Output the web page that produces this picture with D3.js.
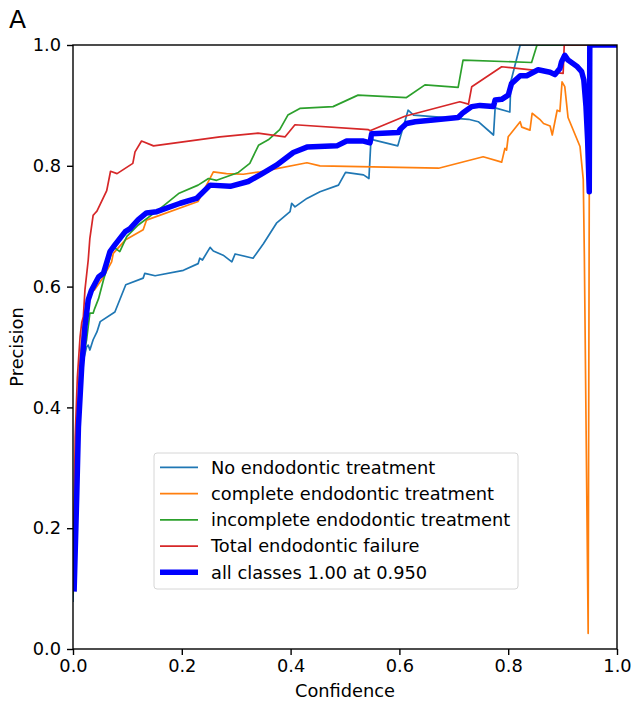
<!DOCTYPE html>
<html>
<head>
<meta charset="utf-8">
<script src="https://cdn.jsdelivr.net/npm/d3@7"></script>
<style>
  body { margin: 0; background: #fff; }
  text { font-family: "DejaVu Sans", sans-serif; }
</style>
</head>
<body>
<svg width="633" height="703"></svg>
<script>
// [confidence, precision] pairs
const noTreatment = [
  [0.000,0.078],[0.004,0.25],[0.008,0.38],[0.012,0.45],[0.019,0.478],[0.025,0.500],[0.028,0.503],
  [0.031,0.495],[0.037,0.512],[0.044,0.525],[0.050,0.542],[0.077,0.558],[0.097,0.603],[0.129,0.614],
  [0.132,0.622],[0.151,0.618],[0.203,0.627],[0.230,0.638],[0.233,0.647],[0.238,0.644],[0.252,0.665],
  [0.258,0.659],[0.276,0.652],[0.292,0.641],[0.298,0.654],[0.331,0.647],[0.350,0.671],[0.374,0.705],
  [0.399,0.724],[0.402,0.738],[0.408,0.732],[0.430,0.746],[0.454,0.757],[0.488,0.768],[0.501,0.789],
  [0.534,0.785],[0.544,0.779],[0.548,0.848],[0.552,0.843],[0.597,0.833],[0.616,0.892],[0.626,0.884],
  [0.727,0.877],[0.745,0.873],[0.773,0.851],[0.776,0.896],[0.803,0.889],[0.805,0.940],[0.822,1.0],
  [1.0,1.0]
];
const completeTreatment = [
  [0.000,0.10],[0.005,0.30],[0.012,0.47],[0.020,0.55],[0.028,0.586],[0.040,0.595],[0.056,0.616],
  [0.071,0.641],[0.074,0.655],[0.096,0.677],[0.129,0.694],[0.135,0.710],[0.230,0.741],[0.258,0.790],
  [0.282,0.787],[0.313,0.786],[0.344,0.790],[0.430,0.805],[0.454,0.800],[0.672,0.796],[0.754,0.815],
  [0.788,0.806],[0.794,0.829],[0.797,0.826],[0.800,0.848],[0.822,0.873],[0.825,0.864],[0.840,0.859],
  [0.844,0.887],[0.858,0.877],[0.865,0.870],[0.877,0.866],[0.881,0.851],[0.890,0.892],[0.895,0.890],
  [0.899,0.939],[0.904,0.931],[0.910,0.880],[0.932,0.832],[0.938,0.777],[0.940,0.65],[0.947,0.026],
  [0.949,0.75],[0.950,1.0],[1.0,1.0]
];
const incompleteTreatment = [
  [0.000,0.09],[0.006,0.30],[0.012,0.42],[0.018,0.48],[0.025,0.512],[0.031,0.556],[0.037,0.556],
  [0.040,0.564],[0.047,0.580],[0.056,0.611],[0.074,0.666],[0.086,0.658],[0.099,0.683],[0.120,0.702],
  [0.160,0.729],[0.194,0.754],[0.230,0.768],[0.249,0.779],[0.264,0.776],[0.304,0.789],[0.325,0.804],
  [0.341,0.834],[0.359,0.843],[0.380,0.860],[0.395,0.884],[0.417,0.895],[0.478,0.898],[0.524,0.917],
  [0.613,0.913],[0.647,0.934],[0.708,0.930],[0.717,0.975],[0.843,0.971],[0.853,1.0],[1.0,1.0]
];
const totalFailure = [
  [0.000,0.10],[0.004,0.35],[0.008,0.45],[0.013,0.517],[0.016,0.540],[0.019,0.550],[0.022,0.595],
  [0.028,0.644],[0.031,0.680],[0.037,0.718],[0.040,0.721],[0.044,0.725],[0.062,0.759],[0.069,0.791],
  [0.081,0.787],[0.110,0.804],[0.114,0.823],[0.126,0.841],[0.148,0.833],[0.270,0.848],[0.340,0.854],
  [0.390,0.848],[0.408,0.868],[0.543,0.860],[0.546,0.858],[0.610,0.882],[0.711,0.906],[0.727,0.902],
  [0.733,0.931],[0.788,0.964],[0.901,0.953],[0.903,1.0],[1.0,1.0]
];
const allClasses = [
  [0.002,0.095],[0.007,0.258],[0.010,0.368],[0.016,0.467],[0.022,0.534],[0.028,0.578],[0.034,0.594],
  [0.047,0.616],[0.056,0.622],[0.068,0.658],[0.077,0.669],[0.096,0.691],[0.105,0.696],[0.120,0.711],
  [0.135,0.722],[0.154,0.724],[0.197,0.738],[0.227,0.746],[0.252,0.768],[0.289,0.766],[0.322,0.774],
  [0.344,0.785],[0.374,0.801],[0.405,0.822],[0.430,0.831],[0.485,0.833],[0.503,0.841],[0.534,0.841],
  [0.546,0.838],[0.549,0.853],[0.598,0.855],[0.601,0.860],[0.613,0.870],[0.629,0.873],[0.662,0.876],
  [0.708,0.880],[0.717,0.888],[0.733,0.898],[0.748,0.900],[0.773,0.898],[0.776,0.909],[0.788,0.910],
  [0.800,0.917],[0.806,0.936],[0.822,0.949],[0.834,0.949],[0.855,0.959],[0.877,0.955],[0.886,0.951],
  [0.895,0.961],[0.898,0.972],[0.904,0.983],[0.910,0.975],[0.926,0.965],[0.935,0.956],[0.939,0.942],
  [0.943,0.898],[0.946,0.843],[0.949,0.757],[0.950,1.0],[1.0,1.0]
];

const seriesNames = [
  "No endodontic treatment",
  "complete endodontic treatment",
  "incomplete endodontic treatment",
  "Total endodontic failure",
  "all classes 1.00 at 0.950"
];
const seriesData = [noTreatment, completeTreatment, incompleteTreatment, totalFailure, allClasses];
const seriesColors = ["#1f77b4", "#ff7f0e", "#2ca02c", "#d62728", "#0000ff"];
const seriesWidths = [1.7, 1.7, 1.7, 1.7, 5.5];
const tickValues = [0, 0.2, 0.4, 0.6, 0.8, 1.0];

const svg = d3.select("svg"),
    margin = {top: 45, right: 16, bottom: 54, left: 73},
    width = +svg.attr("width") - margin.left - margin.right,
    height = +svg.attr("height") - margin.top - margin.bottom;

const x = d3.scaleLinear().domain([0, 1]).range([0, width]),
    y = d3.scaleLinear().domain([0, 1]).range([height, 0]);

const fontSize = 17.8;

const g = svg.append("g")
    .attr("transform", `translate(${margin.left},${margin.top})`);

g.append("clipPath").attr("id", "plot-clip")
  .append("rect").attr("width", width).attr("height", height);

const line = d3.line()
    .x(d => x(d[0]))
    .y(d => y(d[1]));

const plot = g.append("g").attr("clip-path", "url(#plot-clip)");

seriesData.forEach((data, i) => {
  plot.append("path")
      .datum(data)
      .attr("fill", "none")
      .attr("stroke", seriesColors[i])
      .attr("stroke-width", seriesWidths[i])
      .attr("stroke-linejoin", "round")
      .attr("stroke-linecap", "butt")
      .attr("d", line);
});

// axes
const xAxis = g.append("g")
    .attr("transform", `translate(0,${height})`)
    .call(d3.axisBottom(x).tickValues(tickValues).tickFormat(d3.format(".1f"))
      .tickSize(6).tickPadding(4.5).tickSizeOuter(0));
const yAxis = g.append("g")
    .call(d3.axisLeft(y).tickValues(tickValues).tickFormat(d3.format(".1f"))
      .tickSize(6).tickPadding(6).tickSizeOuter(0));

[xAxis, yAxis].forEach(a => {
  a.select(".domain").remove();
  a.selectAll("line").attr("stroke", "#000").attr("stroke-width", 1.4);
  a.selectAll("text").attr("fill", "#000").style("font-size", fontSize + "px")
      .style("font-family", "'DejaVu Sans', sans-serif");
});

// frame
g.append("rect")
    .attr("width", width).attr("height", height)
    .attr("fill", "none").attr("stroke", "#000").attr("stroke-width", 1.4);

// axis labels
svg.append("text")
    .attr("x", margin.left + width / 2).attr("y", 697)
    .attr("text-anchor", "middle")
    .style("font-size", fontSize + "px")
    .text("Confidence");

svg.append("text")
    .attr("transform", `translate(23,${margin.top + height / 2}) rotate(-90)`)
    .attr("text-anchor", "middle")
    .style("font-size", fontSize + "px")
    .text("Precision");

svg.append("text")
    .attr("x", 9).attr("y", 28)
    .style("font-size", "25px")
    .text("A");

// legend
const legend = svg.append("g").attr("transform", "translate(154,453)");
legend.append("rect")
    .attr("width", 364).attr("height", 136)
    .attr("rx", 3)
    .attr("fill", "#fff").attr("fill-opacity", 0.8)
    .attr("stroke", "#d6d6d6").attr("stroke-width", 1);

seriesNames.forEach((name, i) => {
  const yy = 14.3 + i * 26.25;
  legend.append("line")
      .attr("x1", 6).attr("x2", 44).attr("y1", yy).attr("y2", yy)
      .attr("stroke", seriesColors[i])
      .attr("stroke-width", seriesWidths[i]);
  legend.append("text")
      .attr("x", 57).attr("y", yy).attr("dy", "0.36em")
      .style("font-size", fontSize + "px")
      .text(name);
});
</script>
</body>
</html>
